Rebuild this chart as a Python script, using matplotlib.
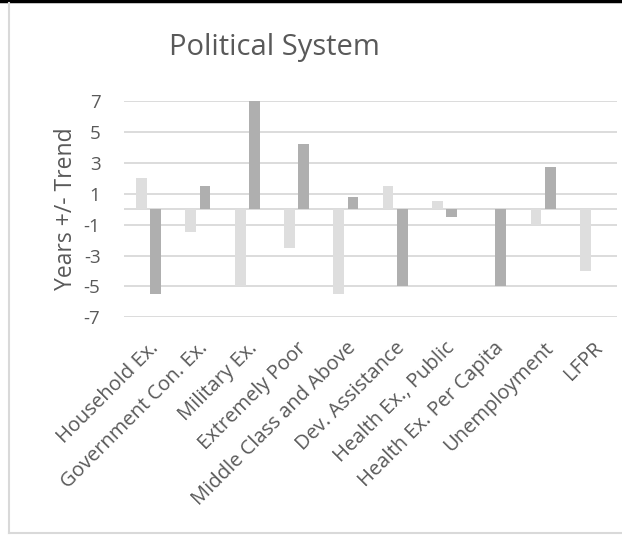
import matplotlib
matplotlib.use("Agg")
import matplotlib.pyplot as plt
import numpy as np

categories = ["Household Ex.", "Government Con. Ex.", "Military Ex.", "Extremely Poor",
              "Middle Class and Above", "Dev. Assistance", "Health Ex., Public",
              "Health Ex. Per Capita", "Unemployment", "LFPR"]
series_a = [2.0, -1.5, -5.0, -2.5, -5.5, 1.5, 0.5, 0.0, -1.0, -4.0]
series_b = [-5.5, 1.5, 7.0, 4.2, 0.8, -5.0, -0.5, -5.0, 2.7, 0.0]
y_ticks = [-7, -5, -3, -1, 1, 3, 5, 7]

plt.rcParams['font.family'] = ['Open Sans', 'DejaVu Sans']
text_color = "#595959"
grid_color = "#d9d9d9"

fig = plt.figure(figsize=(6.22, 5.35), dpi=100)
ax = fig.add_axes([0.1994, 0.4069, 0.7926, 0.4043])

x = np.arange(len(categories))
w = 0.22
off = 0.144
ax.bar(x - off, series_a, width=w, color="#dedede", zorder=3)
ax.bar(x + off, series_b, width=w, color="#afafaf", zorder=3)

ax.set_xlim(-0.5, len(categories) - 0.5)
ax.set_ylim(-7, 7)
ax.set_yticks(y_ticks)
ax.set_yticklabels([str(t) for t in y_ticks])
for t in y_ticks:
    ax.axhline(t, color=grid_color, lw=1.3, zorder=1)
ax.axhline(0, color=grid_color, lw=1.3, zorder=2)

for s in ax.spines.values():
    s.set_visible(False)
ax.tick_params(axis='y', length=0, pad=17, labelsize=13.5, labelcolor=text_color)
ax.tick_params(axis='x', length=0, pad=15, labelsize=14.5, labelcolor=text_color)
ax.set_xticks(x)
ax.set_xticklabels(categories, rotation=45, ha='right', va='top', rotation_mode='anchor')

ax.set_ylabel("Years +/- Trend", fontsize=16.5, color=text_color, labelpad=4)
fig.text(0.4405, 0.912, "Political System", ha='center', va='center',
         fontsize=21, color=text_color)

# chart frame
fig.add_artist(plt.Line2D([0, 1], [0.998, 0.998], transform=fig.transFigure, color="black", lw=2.5))
fig.add_artist(plt.Line2D([8.5 / 622, 8.5 / 622], [0.003, 0.994], transform=fig.transFigure, color=grid_color, lw=1.5))
fig.add_artist(plt.Line2D([8.5 / 622, 1], [0.004, 0.004], transform=fig.transFigure, color=grid_color, lw=1.5))

fig.savefig("out.png", dpi=100)
